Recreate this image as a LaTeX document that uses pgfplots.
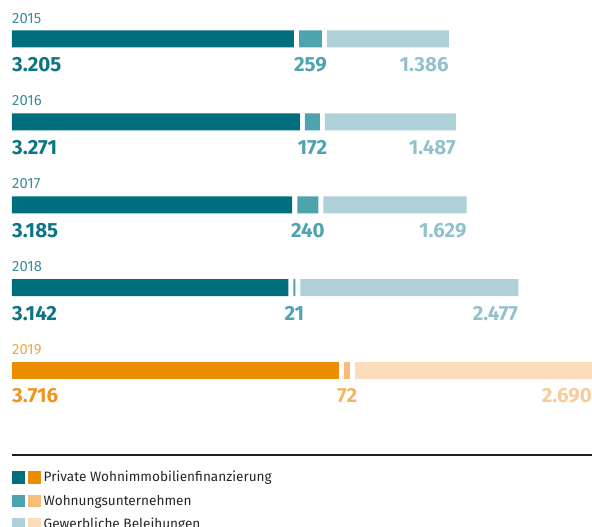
\documentclass[border=0pt]{standalone}
\usepackage{pgfplots}
\pgfplotsset{compat=1.18}
\usepackage{pgfplotstable}
\usepackage{fontspec}
\setmainfont{Fira Sans}
\definecolor{tdark}{HTML}{006E7C}
\definecolor{tmid}{HTML}{4FA3AF}
\definecolor{tlight}{HTML}{AED1D8}
\definecolor{odark}{HTML}{EC8C00}
\definecolor{omid}{HTML}{F6BE78}
\definecolor{olight}{HTML}{FBDDBD}
\definecolor{tyear}{HTML}{3D8D99}
\definecolor{tdarklab}{HTML}{0F7583}
\definecolor{tmidlab}{HTML}{4FA3AF}
\definecolor{tlightlab}{HTML}{92C2CB}
\definecolor{oyear}{HTML}{F0A548}
\definecolor{odarklab}{HTML}{EE9420}
\definecolor{omidlab}{HTML}{F4B664}
\definecolor{olightlab}{HTML}{F8CB9C}

% segments: dark, gap, mid, gap, light (teal for 2015-2018, orange for 2019)
\pgfplotstableread{
y dt do gap mt mo lt lo
0 3205 0 57 259 0 1386 0
1 3271 0 57 172 0 1487 0
2 3185 0 57 240 0 1629 0
3 3142 0 57 21 0 2477 0
4 0 3716 57 0 72 0 2690
}\bars

\pgfplotstableread{
x y lab
0 0 2015
0 1 2016
0 2 2017
0 3 2018
}\yearsT
\pgfplotstableread{
x y lab
0 4 2019
}\yearsO

\pgfplotstableread{
x y lab
0 0 3.205
0 1 3.271
0 2 3.185
0 3 3.142
}\darkT
\pgfplotstableread{
x y lab
0 4 3.716
}\darkO

\pgfplotstableread{
x y lab
3391.5 0 259
3414 1 172
3362 2 240
3209.5 3 21
}\midT
\pgfplotstableread{
x y lab
3809 4 72
}\midO

\pgfplotstableread{
x y lab
4964 0 1.386
5044 1 1.487
5168 2 1.629
5754 3 2.477
}\lightT
\pgfplotstableread{
x y lab
6592 4 2.690
}\lightO

\pgfplotsset{
  base/.style={
    at={(12pt,115pt)}, anchor=south west,
    scale only axis, width=580pt, height=412pt,
    xmin=0, xmax=6592, ymin=-0.47, ymax=4.5, y dir=reverse,
    hide axis, clip=false,
  },
  yearlab/.style={draw=none, nodes near coords, point meta=explicit symbolic,
    every node near coord/.append style={anchor=base west, yshift=15.9pt, inner sep=0pt,
      font=\fontsize{14.8}{14.8}\selectfont, text=#1}},
  vallab/.style 2 args={draw=none, nodes near coords, point meta=explicit symbolic,
    every node near coord/.append style={anchor=#1, yshift=-18.1pt, inner sep=0pt,
      font=\fontsize{20.5}{20.5}\selectfont\bfseries, text=#2}},
}

\begin{document}
\begin{tikzpicture}
\useasboundingbox (0,0) rectangle (592pt,527pt);
\begin{axis}[base, xbar stacked, bar width=17pt,
  legend style={at={(axis description cs:0,0)}, anchor=north west, yshift=-59pt,
    draw=none, fill=none, inner sep=0pt, row sep=11.5pt,
    font=\fontsize{13.6}{13.6}\selectfont,
    nodes={inner sep=0pt, text=black!85},
    /tikz/every odd column/.append style={column sep=3.5pt}},
  legend cell align=left]
\addplot[fill=tdark, draw=none, forget plot] table[x=dt,y=y]{\bars};
\addplot[fill=odark, draw=none, forget plot] table[x=do,y=y]{\bars};
\addplot[fill=none, draw=none, forget plot] table[x=gap,y=y]{\bars};
\addplot[fill=tmid, draw=none, forget plot] table[x=mt,y=y]{\bars};
\addplot[fill=omid, draw=none, forget plot] table[x=mo,y=y]{\bars};
\addplot[fill=none, draw=none, forget plot] table[x=gap,y=y]{\bars};
\addplot[fill=tlight, draw=none, forget plot] table[x=lt,y=y]{\bars};
\addplot[fill=olight, draw=none, forget plot] table[x=lo,y=y]{\bars};
\addlegendimage{legend image code/.code={
  \fill[tdark] (0pt,-5.8pt) rectangle (11.6pt,5.8pt);
  \fill[odark] (16pt,-5.8pt) rectangle (27.6pt,5.8pt);}}
\addlegendentry{Private Wohnimmobilienfinanzierung}
\addlegendimage{legend image code/.code={
  \fill[tmid] (0pt,-5.8pt) rectangle (11.6pt,5.8pt);
  \fill[omid] (16pt,-5.8pt) rectangle (27.6pt,5.8pt);}}
\addlegendentry{Wohnungsunternehmen}
\addlegendimage{legend image code/.code={
  \fill[tlight] (0pt,-5.8pt) rectangle (11.6pt,5.8pt);
  \fill[olight] (16pt,-5.8pt) rectangle (27.6pt,5.8pt);}}
\addlegendentry{Gewerbliche Beleihungen}
\end{axis}
\begin{axis}[base]
\addplot[yearlab=tyear] table[x=x,y=y,meta=lab]{\yearsT};
\addplot[yearlab=oyear] table[x=x,y=y,meta=lab]{\yearsO};
\addplot[vallab={north west}{tdarklab}] table[x=x,y=y,meta=lab]{\darkT};
\addplot[vallab={north west}{odarklab}] table[x=x,y=y,meta=lab]{\darkO};
\addplot[vallab={north}{tmidlab}] table[x=x,y=y,meta=lab]{\midT};
\addplot[vallab={north}{omidlab}] table[x=x,y=y,meta=lab]{\midO};
\addplot[vallab={north east}{tlightlab}] table[x=x,y=y,meta=lab]{\lightT};
\addplot[vallab={north east}{olightlab}] table[x=x,y=y,meta=lab]{\lightO};
\end{axis}
\draw[line width=2pt, black!88] (12pt,71.5pt) -- (592pt,71.5pt);
\end{tikzpicture}
\end{document}
